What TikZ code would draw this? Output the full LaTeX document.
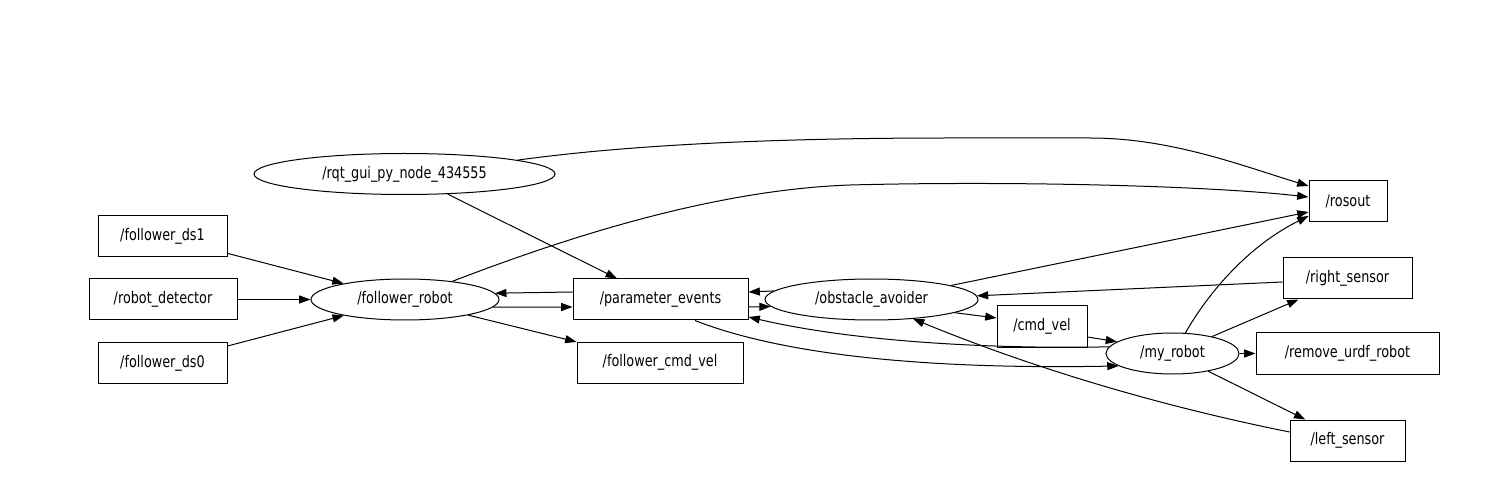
\documentclass[tikz,border=0pt]{standalone}
\usepackage{fontspec}
\setmainfont{DejaVu Sans}[FakeStretch=0.8]
\usetikzlibrary{shapes.geometric,arrows.meta,calc}
\begin{document}
\begin{tikzpicture}[x=0.75pt,y=-0.75pt,
  every node/.style={font=\fontsize{12}{14}\selectfont, inner sep=0pt, draw, line width=0.75pt},
  box/.style={rectangle, minimum height=30.75pt},
  oval/.style={ellipse, minimum height=30.75pt},
  edge/.style={line width=0.75pt, -{Triangle[length=8.5pt,width=6pt]}}]
\fill[white] (0,0) rectangle (1487,484);
\useasboundingbox (0,0) rectangle (1487,484);
% nodes
\node[oval, minimum width=225.75pt] (rqt) at (404.5,174) {/rqt\_gui\_py\_node\_434555};
\node[box, minimum width=96.75pt] (ds1) at (162.5,236.5) {/follower\_ds1};
\node[box, minimum width=111pt] (rd) at (163,299.5) {/robot\_detector};
\node[box, minimum width=96.75pt] (ds0) at (162.5,363) {/follower\_ds0};
\node[oval, minimum width=141pt] (fr) at (405,299.5) {/follower\_robot};
\node[box, minimum width=131.25pt] (pe) at (660.5,299.5) {/parameter\_events};
\node[box, minimum width=124.5pt] (fcv) at (660,362.5) {/follower\_cmd\_vel};
\node[oval, minimum width=159.75pt] (oa) at (871.5,299.5) {/obstacle\_avoider};
\node[box, minimum width=67.5pt] (cv) at (1042,326.5) {/cmd\_vel};
\node[oval, minimum width=99.75pt] (mr) at (1172.5,353.5) {/my\_robot};
\node[box, minimum width=58.5pt] (ro) at (1348,201.5) {/rosout};
\node[box, minimum width=96.75pt] (rs) at (1347.5,278.5) {/right\_sensor};
\node[box, minimum width=137.25pt] (ru) at (1347.5,353.5) {/remove\_urdf\_robot};
\node[box, minimum width=86.25pt] (ls) at (1347.5,440.5) {/left\_sensor};
% edges
\draw[edge] (rqt.7) .. controls (620,146) and (760,138) .. (950,138) -- (1090,138)
  .. controls (1170,138) and (1240,165) .. ($(ro.west)+(0,-15.5)$);
\draw[edge] (rqt.-25) -- ($(pe.north)+(-43.5,0)$);
\draw[edge] (ds1) -- (fr);
\draw[edge] (rd) -- (fr);
\draw[edge] (ds0) -- (fr);
\draw[edge] (fr.21) .. controls (560,240) and (710,190) .. (850,185)
  .. controls (1000,181) and (1200,185) .. ($(ro.west)+(0,-4.5)$);
\draw[edge] ($(pe.west)+(0,-7.5)$) -- (fr.4.9);
\draw[edge] (fr.-5) -- ($(pe.west)+(0,7.5)$);
\draw[edge] (fr) -- (fcv);
\draw[edge] (oa.175.7) -- ($(pe.east)+(0,-7.5)$);
\draw[edge] ($(pe.east)+(0,7.5)$) -- (oa.184.3);
\draw[edge] (oa.10.7) -- ($(ro.west)+(0,10.5)$);
\draw[edge] ($(rs.west)+(0,3.5)$) -- (oa.2.5);
\draw[edge] (oa.-9.3) -- ($(cv.west)+(0,-8.5)$);
\draw[edge] ($(cv.east)+(0,10.5)$) -- (mr.168.3);
\draw[edge] (mr.174.3) .. controls (1000,349) and (860,343) .. ($(pe.east)+(0,17.5)$);
\draw[edge] ($(pe.south)+(34.5,0)$) .. controls (770,350) and (900,370) .. (mr.193.4);
\draw[edge] ($(ls.west)+(0,-8.5)$) .. controls (1180,410) and (1050,375) .. (oa.-25);
\draw[edge] (mr.58) .. controls (1210,290) and (1250,245) .. ($(ro.west)+(0,14.5)$);
\draw[edge] (mr) -- (rs);
\draw[edge] (mr) -- (ru);
\draw[edge] (mr) -- (ls);
\end{tikzpicture}
\end{document}
